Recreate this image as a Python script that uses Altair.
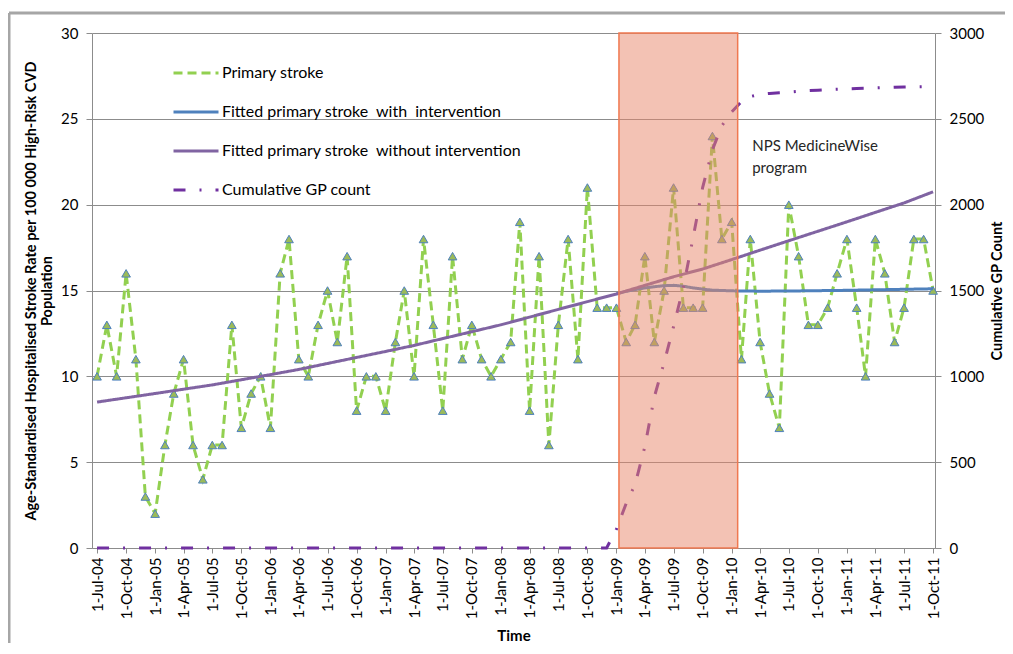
import altair as alt
import pandas as pd


def ms(s):
    return int(pd.Timestamp(s).timestamp() * 1000)


# ---------------- data ----------------
months = [ms(d) for d in pd.date_range("2004-07-01", periods=88, freq="MS")]
tick_values = [ms(d) for d in pd.date_range("2004-07-01", "2011-10-01", freq="3MS")]

primary_stroke = [10, 13, 10, 16, 11, 3, 2, 6, 9, 11, 6, 4, 6, 6, 13, 7, 9, 10, 7, 16, 18, 11,
                  10, 13, 15, 12, 17, 8, 10, 10, 8, 12, 15, 10, 18, 13, 8, 17, 11, 13, 11, 10, 11, 12, 19,
                  8, 17, 6, 13, 18, 11, 21, 14, 14, 14, 12, 13, 17, 12, 15, 21, 14, 14, 14, 24, 18, 19,
                  11, 18, 12, 9, 7, 20, 17, 13, 13, 14, 16, 18, 14, 10, 18, 16, 12, 14, 18, 18, 15]

without_idx = list(range(0, 88, 3))
fitted_without = [8.5, 8.75, 9.0, 9.25, 9.5, 9.8, 10.1, 10.4, 10.75, 11.1, 11.45, 11.8, 12.2, 12.6,
                  13.0, 13.45, 13.9, 14.35, 14.8, 15.3, 15.8, 16.25, 16.8, 17.35, 17.9, 18.45,
                  19.0, 19.55, 20.1, 20.75]

with_idx = list(range(54, 67)) + [69, 72, 75, 78, 81, 84, 87]
fitted_with = [14.8, 14.95, 15.05, 15.15, 15.22, 15.28, 15.3, 15.25, 15.15, 15.08, 15.02, 15.0, 14.98,
               14.96, 14.97, 14.99, 15.01, 15.04, 15.07, 15.1]

gp_count = [0] * 54 + [110, 260, 370, 590, 880, 1080, 1290, 1520, 1810, 2100, 2320, 2460, 2540,
                       2600, 2630, 2643, 2648, 2652, 2655, 2660, 2664, 2667, 2670, 2672, 2674,
                       2676, 2678, 2680, 2682, 2684, 2685, 2686, 2687, 2688]

series = ["Primary stroke",
          "Fitted primary stroke\u00a0\u00a0with\u00a0\u00a0intervention",
          "Fitted primary stroke\u00a0\u00a0without intervention",
          "Cumulative GP count"]
colors = ["#92D050", "#4F81BD", "#8064A2", "#7030A0"]
dashes = [[9, 5], [1, 0], [1, 0], [12, 14, 2, 14]]

x_domain = ["2004-06-15", "2011-10-07"]
program_start, program_end = "2009-01-09", "2010-01-20"

left_title = ["Age-Standardised Hospitalised Stroke Rate per 100 000 High-Risk CVD", "Population"]
right_title = "Cumulative GP Count"

df_ps = pd.DataFrame({"date": months, "value": primary_stroke, "series": series[0]})
df_with = pd.DataFrame({"date": [months[i] for i in with_idx], "value": fitted_with, "series": series[1]})
df_without = pd.DataFrame({"date": [months[i] for i in without_idx], "value": fitted_without,
                           "series": series[2]})
df_gp = pd.DataFrame({"date": months, "gp": gp_count, "series": series[3]})
df_rect = pd.DataFrame({"date": [ms(program_start)], "date2": [ms(program_end)]})
df_text = pd.DataFrame({"date": [ms("2010-03-07")], "ty": [23.4],
                        "label": ["NPS MedicineWise\nprogram"]})

# ---------------- encodings ----------------
FONT = "Lato"
GRAY = "#8C8C8C"
W, H = 843, 515

x_enc = alt.X(
    "date:T",
    scale=alt.Scale(type="utc", domain=[ms(x_domain[0]), ms(x_domain[1])]),
    axis=alt.Axis(values=tick_values, labelExpr="utcFormat(datum.value, '%-d-%b-%y')",
                  labelAngle=270,
                  labelFont=FONT, labelFontSize=15, labelColor="#000000", labelPadding=4,
                  tickSize=5, tickColor=GRAY, domainColor=GRAY, grid=False,
                  title="Time", titleFont=FONT, titleFontSize=15, titleFontWeight="bold",
                  titleColor="#000000", titlePadding=10),
)

legend = alt.Legend(orient="none", legendX=80, legendY=16, title=None, symbolType="stroke",
                    symbolSize=2025, symbolStrokeWidth=3, labelFont=FONT, labelFontSize=16,
                    labelColor="#000000", labelOffset=2, rowPadding=7, padding=0,
                    labelLimit=500)

color_enc = alt.Color("series:N", scale=alt.Scale(domain=series, range=colors), legend=legend)
dash_enc = alt.StrokeDash("series:N", scale=alt.Scale(domain=series, range=dashes), legend=legend)

y_left = alt.Y(
    "value:Q",
    scale=alt.Scale(domain=[0, 30], nice=False),
    axis=alt.Axis(orient="left", values=[0, 5, 10, 15, 20, 25, 30], grid=True, gridColor=GRAY,
                  gridWidth=1, domainColor=GRAY, tickColor=GRAY, tickSize=6,
                  labelFont=FONT, labelFontSize=15, labelColor="#000000", labelPadding=8,
                  title=left_title, titleFont=FONT, titleFontSize=14.5, titleFontWeight="bold",
                  titleColor="#000000", titlePadding=6, titleLineHeight=16),
)

y_right = alt.Y(
    "gp:Q",
    scale=alt.Scale(domain=[0, 3000], nice=False),
    axis=alt.Axis(orient="right", values=[0, 500, 1000, 1500, 2000, 2500, 3000], format="d",
                  grid=False, domainColor=GRAY, tickColor=GRAY, tickSize=6,
                  labelFont=FONT, labelFontSize=15, labelColor="#000000", labelPadding=8,
                  title=right_title, titleFont=FONT, titleFontSize=14.5, titleFontWeight="bold",
                  titleColor="#000000", titleAngle=270, titleX=62, titleY=H / 2,
                  titleAlign="center", titleBaseline="middle"),
)

# ---------------- layers ----------------
green_line = alt.Chart(df_ps).mark_line(strokeWidth=3).encode(
    x=x_enc, y=y_left, color=color_enc, strokeDash=dash_enc)
triangles = alt.Chart(df_ps).mark_point(shape="triangle-up", filled=True, fill="#9BBB59",
                                        stroke="#4F81BD", strokeWidth=1, size=75, opacity=1).encode(
    x=x_enc, y=y_left)
blue_line = alt.Chart(df_with).mark_line(strokeWidth=3).encode(
    x=x_enc, y=y_left, color=color_enc, strokeDash=dash_enc)
purple_line = alt.Chart(df_without).mark_line(strokeWidth=3).encode(
    x=x_enc, y=y_left, color=color_enc, strokeDash=dash_enc)

left_group = alt.layer(green_line, triangles, blue_line, purple_line)

gp_line = alt.Chart(df_gp).mark_line(strokeWidth=3).encode(
    x=x_enc, y=y_right, color=color_enc, strokeDash=dash_enc)

rect = alt.Chart(df_rect).mark_rect(fill="#E8866A", fillOpacity=0.5, stroke="#F07850",
                                    strokeWidth=1.5).encode(
    x=x_enc, x2="date2:T", y=alt.value(0), y2=alt.value(H))
text = alt.Chart(df_text).mark_text(align="left", baseline="middle", font=FONT, fontSize=15,
                                    color="#262626", lineBreak="\n", lineHeight=22).encode(
    x=x_enc,
    y=alt.Y("ty:Q", scale=alt.Scale(domain=[0, 30], nice=False), axis=None),
    text="label:N")
overlay = alt.layer(rect, text)

frame_df = pd.DataFrame({"k": [0]})
border_left = alt.Chart(frame_df).mark_rule(color="#A6A6A6", strokeWidth=3).encode(
    x=alt.value(-83), y=alt.value(-20), y2=alt.value(660))
border_top = alt.Chart(frame_df).mark_rule(color="#A6A6A6", strokeWidth=3).encode(
    x=alt.value(-83), x2=alt.value(940), y=alt.value(-20))

chart = alt.layer(left_group, gp_line, overlay, border_left, border_top).resolve_scale(
    y="independent"
).properties(
    width=W, height=H,
    padding={"left": 84, "top": 25, "right": 70, "bottom": 95},
    autosize=alt.AutoSizeParams(type="none"),
).configure_view(stroke=None)

chart.save("out.html", embed_options={"renderer": "svg", "actions": False})
